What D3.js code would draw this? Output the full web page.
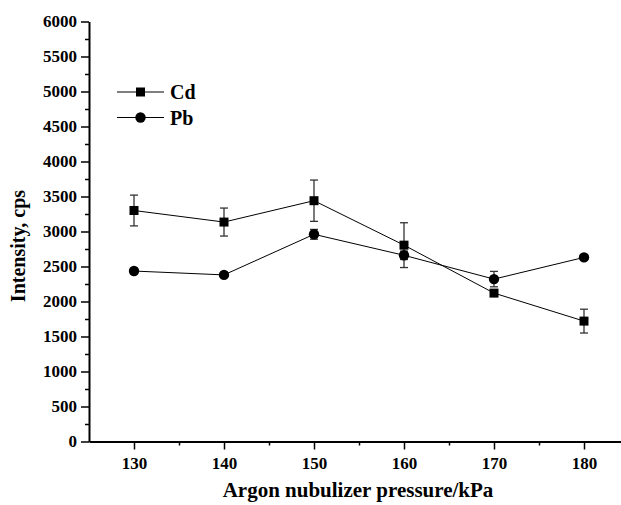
<html>
  <head>
    <meta charset="utf-8">
    <script src="https://cdn.jsdelivr.net/npm/d3@7"></script>
    <style>
      body { margin: 0; background: #fff; }
      text { font-family: "Liberation Serif", "Times New Roman", serif; font-weight: bold; }
    </style>
  </head>
  <body>
<div id="chart"></div>
<script>

// data
let pressures = [130, 140, 150, 160, 170, 180];
let cdValues = [3300, 3135, 3440, 2805, 2120, 1720];
let cdErrors = [220, 200, 295, 320, 40, 170];
let pbValues = [2435, 2380, 2960, 2660, 2320, 2630];
let pbErrors = [40, 20, 70, 60, 110, 30];
let xTicks = [130, 140, 150, 160, 170, 180];
let yTicks = [0, 500, 1000, 1500, 2000, 2500, 3000, 3500, 4000, 4500, 5000, 5500, 6000];

let width = 621;
let height = 505;

let x = d3.scaleLinear().domain([125, 185]).range([89, 629]);
let y = d3.scaleLinear().domain([0, 6000]).range([441.5, 21.5]);

let svg = d3.select('#chart')
    .append('svg')
    .attr('width', width)
    .attr('height', height);

// minor ticks first
svg.append('g')
    .attr('transform', 'translate(0,441.5)')
    .call(d3.axisBottom(x).tickValues(d3.range(135, 185, 10)).tickSize(4).tickFormat(''))
    .call(g => g.select('.domain').remove());
svg.append('g')
    .attr('transform', 'translate(89,0)')
    .call(d3.axisLeft(y).tickValues(d3.range(250, 6000, 500)).tickSize(4).tickFormat(''))
    .call(g => g.select('.domain').remove());

let xAxis = svg.append('g')
    .attr('transform', 'translate(0,441.5)')
    .call(d3.axisBottom(x).tickValues(xTicks).tickSize(8).tickPadding(7).tickSizeOuter(0).tickFormat(d3.format('d')));
let yAxis = svg.append('g')
    .attr('transform', 'translate(89,0)')
    .call(d3.axisLeft(y).tickValues(yTicks).tickSize(8).tickPadding(4).tickSizeOuter(0).tickFormat(d3.format('d')));

svg.selectAll('.tick line').attr('stroke', '#000').attr('stroke-width', 1.5);
svg.selectAll('.domain').attr('stroke', '#000').attr('stroke-width', 2);
svg.selectAll('.tick text')
    .attr('font-family', '"Liberation Serif", serif')
    .attr('font-weight', 'bold')
    .attr('font-size', 17)
    .attr('fill', '#000');

svg.append('text')
    .attr('x', 358)
    .attr('y', 497)
    .attr('text-anchor', 'middle')
    .attr('font-size', 21)
    .text('Argon nubulizer pressure/kPa');

svg.append('text')
    .attr('transform', 'translate(25,246) rotate(-90)')
    .attr('text-anchor', 'middle')
    .attr('font-size', 20)
    .text('Intensity, cps');

let series = [
    {name: 'Cd', values: cdValues, errors: cdErrors, shape: 'square'},
    {name: 'Pb', values: pbValues, errors: pbErrors, shape: 'circle'}
];

let line = d3.line()
    .x((d, i) => x(pressures[i]))
    .y(d => y(d));

series.forEach(function(s) {
    let g = svg.append('g');

    g.append('path')
        .attr('d', line(s.values))
        .attr('fill', 'none')
        .attr('stroke', '#000')
        .attr('stroke-width', 1);

    let eb = g.selectAll('.err')
        .data(s.values)
        .enter()
        .append('g')
        .attr('stroke', '#333')
        .attr('stroke-width', 1.3);
    eb.append('line')
        .attr('x1', (d, i) => x(pressures[i]))
        .attr('x2', (d, i) => x(pressures[i]))
        .attr('y1', (d, i) => y(d + s.errors[i]))
        .attr('y2', (d, i) => y(d - s.errors[i]));
    eb.append('line')
        .attr('x1', (d, i) => x(pressures[i]) - 4)
        .attr('x2', (d, i) => x(pressures[i]) + 4)
        .attr('y1', (d, i) => y(d + s.errors[i]))
        .attr('y2', (d, i) => y(d + s.errors[i]));
    eb.append('line')
        .attr('x1', (d, i) => x(pressures[i]) - 4)
        .attr('x2', (d, i) => x(pressures[i]) + 4)
        .attr('y1', (d, i) => y(d - s.errors[i]))
        .attr('y2', (d, i) => y(d - s.errors[i]));

    let sym = d3.symbol()
        .type(s.shape == 'square' ? d3.symbolSquare : d3.symbolCircle)
        .size(s.shape == 'square' ? 81 : 85);
    g.selectAll('.pt')
        .data(s.values)
        .enter()
        .append('path')
        .attr('d', sym)
        .attr('transform', (d, i) => 'translate(' + x(pressures[i]) + ',' + y(d) + ')')
        .attr('fill', '#000');
});

// legend
let legend = svg.append('g');
series.forEach(function(s, i) {
    let ly = 92 + i * 25.5;
    legend.append('line')
        .attr('x1', 117).attr('x2', 164)
        .attr('y1', ly).attr('y2', ly)
        .attr('stroke', '#000').attr('stroke-width', 1);
    legend.append('path')
        .attr('d', d3.symbol()
            .type(s.shape == 'square' ? d3.symbolSquare : d3.symbolCircle)
            .size(s.shape == 'square' ? 81 : 85))
        .attr('transform', 'translate(140.5,' + ly + ')')
        .attr('fill', '#000');
    legend.append('text')
        .attr('x', 170)
        .attr('y', ly + 7)
        .attr('font-size', 20)
        .text(s.name);
});

</script>
  </body>
</html>
